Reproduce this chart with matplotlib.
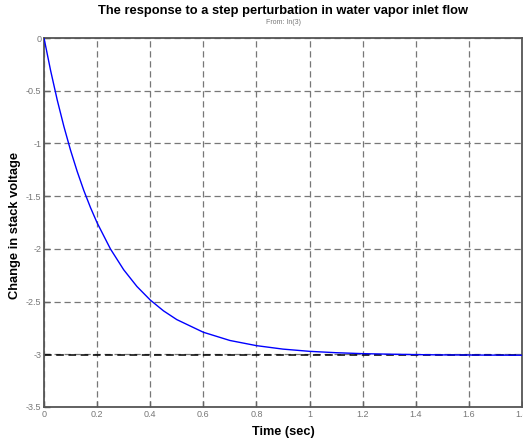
import numpy as np
import matplotlib.pyplot as plt

# step response
time_s = [0, 0.025, 0.05, 0.075, 0.1, 0.125, 0.15, 0.175, 0.2, 0.25, 0.3,
          0.35, 0.4, 0.45, 0.5, 0.6, 0.7, 0.8, 0.9, 1.0, 1.1, 1.2, 1.3,
          1.4, 1.5, 1.6, 1.7, 1.8]
dv_stack = [0, -0.31, -0.59, -0.84, -1.065, -1.266, -1.447, -1.608, -1.753,
            -2.0, -2.198, -2.357, -2.485, -2.588, -2.671, -2.791, -2.869,
            -2.918, -2.951, -2.972, -2.985, -2.994, -2.999, -3.003, -3.006,
            -3.007, -3.008, -3.009]
steady_state = -3.01

xticks = [0, 0.2, 0.4, 0.6, 0.8, 1.0, 1.2, 1.4, 1.6, 1.8]
xtick_labels = ["0", "0.2", "0.4", "0.6", "0.8", "1", "1.2", "1.4", "1.6", "1.8"]
yticks = [0, -0.5, -1, -1.5, -2, -2.5, -3, -3.5]
ytick_labels = ["0", "-0.5", "-1", "-1.5", "-2", "-2.5", "-3", "-3.5"]

plt.rcParams["font.family"] = ["Liberation Sans", "DejaVu Sans"]

fig = plt.figure(figsize=(5.23, 4.43), dpi=100)
ax = fig.add_axes([44 / 523, 36 / 443, 478 / 523, 369 / 443])

ax.plot(time_s, dv_stack, color="#0000ff", linewidth=1.0, zorder=3)
ax.axhline(steady_state, color="black", linewidth=1.1,
           linestyle=(0, (5, 3)), zorder=2)

ax.set_xlim(0, 1.8)
ax.set_ylim(-3.5, 0)
ax.set_xticks(xticks)
ax.set_xticklabels(xtick_labels)
ax.set_yticks(yticks)
ax.set_yticklabels(ytick_labels)
ax.tick_params(direction="in", length=4, width=1, colors="#666666",
               labelsize=6.5, labelcolor="#777777", pad=2)
ax.grid(True, color="#777777", linewidth=0.9, linestyle=(0, (5, 3)))

for s in ax.spines.values():
    s.set_color("#555555")
    s.set_linewidth(1.3)

fig.text(0.5 * (44 + 522) / 523, 1 - 11 / 443,
         "The response to a step perturbation in water vapor inlet flow",
         ha="center", va="center", fontsize=9.3, fontweight="bold")
fig.text(0.5 * (44 + 522) / 523, 1 - 23 / 443, "From: In(3)",
         ha="center", va="center", fontsize=5, color="#777777")
ax.set_xlabel("Time (sec)", fontsize=9.2, fontweight="bold", labelpad=5)
fig.text(15 / 523, 1 - 225 / 443, "Change in stack voltage", rotation=90,
         ha="center", va="center", fontsize=9.3, fontweight="bold")

fig.savefig("out.png", dpi=100)
